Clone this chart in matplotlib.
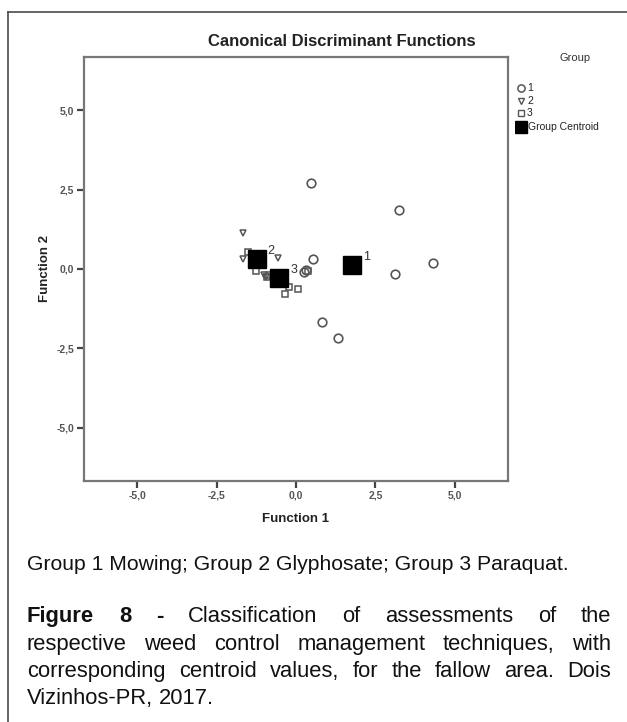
import matplotlib
matplotlib.use("Agg")
import matplotlib.pyplot as plt
from matplotlib.lines import Line2D

plt.rcParams['font.family'] = ['Liberation Sans', 'DejaVu Sans']

# ---- data ----
g1_x = [0.47, 3.24, 4.30, 3.10, 0.55, 0.82, 1.32, 0.25, 0.33]
g1_y = [2.70, 1.85, 0.20, -0.15, 0.33, -1.66, -2.18, -0.10, -0.04]
g2_x = [-1.68, -1.66, -0.58, -1.00, -0.95]
g2_y = [1.12, 0.32, 0.36, -0.20, -0.25]
g3_x = [-1.50, -1.26, -0.92, -0.85, -0.22, 0.05, -0.34, 0.37]
g3_y = [0.52, -0.05, -0.24, -0.20, -0.58, -0.64, -0.80, -0.07]
cent_x = [1.77, -1.24, -0.52]
cent_y = [0.12, 0.30, -0.29]
cent_labels = ["1", "2", "3"]
ticks = [-5.0, -2.5, 0.0, 2.5, 5.0]
tick_labels = ["-5,0", "-2,5", "0,0", "2,5", "5,0"]
legend_labels = ["1", "2", "3", "Group Centroid"]

W, H = 627, 722
fig = plt.figure(figsize=(W / 100, H / 100), dpi=100)

# outer frame (cut at right/bottom)
frame_col = "#4a4a4a"
fig.add_artist(Line2D([8 / W, 1.0], [1 - 12 / H, 1 - 12 / H], color=frame_col, lw=1.2))
fig.add_artist(Line2D([8 / W, 8 / W], [1 - 12 / H, 0.0], color=frame_col, lw=1.2))

# plot axes
l, r, t, b = 84, 508, 57, 481
ax = fig.add_axes([l / W, 1 - b / H, (r - l) / W, (b - t) / H])
ax.set_xlim(-6.67, 6.67)
ax.set_ylim(-6.67, 6.67)
for s in ax.spines.values():
    s.set_color("#777777")
    s.set_linewidth(1.6)

mk_col = "#555555"
ax.plot(g1_x, g1_y, linestyle="none", marker="o", markersize=6.2, markerfacecolor="none",
        markeredgecolor=mk_col, markeredgewidth=1.2)
ax.plot(g2_x, g2_y, linestyle="none", marker="v", markersize=4.2, markerfacecolor="none",
        markeredgecolor=mk_col, markeredgewidth=1.1)
ax.plot(g3_x, g3_y, linestyle="none", marker="s", markersize=5.0, markerfacecolor="none",
        markeredgecolor=mk_col, markeredgewidth=1.1)
ax.plot(cent_x, cent_y, linestyle="none", marker="s", markersize=12.5, markerfacecolor="black",
        markeredgecolor="black")
for cx, cy, lab in zip(cent_x, cent_y, cent_labels):
    ax.annotate(lab, (cx, cy), xytext=(8, 4), textcoords="offset points", fontsize=9,
                color="#333333")

ax.set_xticks(ticks)
ax.set_xticklabels(tick_labels)
ax.set_yticks(ticks)
ax.set_yticklabels(tick_labels)
ax.tick_params(axis="both", direction="out", length=5, width=1.6, color="#444444",
               labelsize=7.5, labelcolor="#555555", pad=2)
for lab in ax.get_xticklabels() + ax.get_yticklabels():
    lab.set_fontweight("bold")
ax.set_xlabel("Function 1", fontsize=9.5, fontweight="bold", color="#222222", labelpad=9)
ax.set_ylabel("Function 2", fontsize=9.5, fontweight="bold", color="#222222", labelpad=4)

fig.text(342 / W, 1 - 41 / H, "Canonical Discriminant Functions", fontsize=12, fontweight="bold",
         color="#222222", ha="center", va="center")

# legend (manual, placed on figure)
fig.text(575 / W, 1 - 58 / H, "Group", fontsize=8, color="#333333", ha="center", va="center")
leg_ax = fig.add_axes([515 / W, 1 - 140 / H, 100 / W, 60 / H])
leg_ax.set_xlim(0, 100)
leg_ax.set_ylim(140, 80)
leg_ax.axis("off")
leg_y = [88, 100.5, 112.5, 127]
leg_styles = [
    dict(marker="o", markersize=5.2, markerfacecolor="none", markeredgecolor=mk_col, markeredgewidth=1.1),
    dict(marker="v", markersize=3.8, markerfacecolor="none", markeredgecolor=mk_col, markeredgewidth=1.0),
    dict(marker="s", markersize=4.5, markerfacecolor="none", markeredgecolor=mk_col, markeredgewidth=1.0),
    dict(marker="s", markersize=8.5, markerfacecolor="black", markeredgecolor="black"),
]
for yy, lab, st in zip(leg_y, legend_labels, leg_styles):
    leg_ax.plot([5.5 if lab != "Group Centroid" else 6.0], [yy], linestyle="none", **st)
    leg_ax.text(12 if lab != "Group Centroid" else 12.5, yy, lab, fontsize=7.5, color="#222222",
                va="center", ha="left")

# captions
fig.text(27 / W, 1 - 565 / H, "Group 1 Mowing; Group 2 Glyphosate; Group 3 Paraquat.",
         fontsize=15.2, color="#111111", va="center", ha="left")

lines = [
    ["Figure", "8", "-", "Classification", "of", "assessments", "of", "the"],
    ["respective", "weed", "control", "management", "techniques,", "with"],
    ["corresponding", "centroid", "values,", "for", "the", "fallow", "area.", "Dois"],
    ["Vizinhos-PR,", "2017."],
]
bold_words = {(0, 0), (0, 1), (0, 2)}
line_base = [622, 650, 677, 704]
x0, x1 = 27, 611
fs = 15.8
fig.canvas.draw()
renderer = fig.canvas.get_renderer()
for li, (words, yy) in enumerate(zip(lines, line_base)):
    arts = []
    for wi, w in enumerate(words):
        tx = fig.text(0, 1 - yy / H, w, fontsize=fs, color="#111111", va="baseline", ha="left",
                      fontweight="bold" if (li, wi) in bold_words else "normal")
        arts.append(tx)
    widths = [a.get_window_extent(renderer).width for a in arts]
    if li < len(lines) - 1:
        gap = (x1 - x0 - sum(widths)) / (len(words) - 1)
    else:
        sp = fig.text(0, 0, "a a", fontsize=fs)
        sp2 = fig.text(0, 0, "aa", fontsize=fs)
        gap = sp.get_window_extent(renderer).width - sp2.get_window_extent(renderer).width
        sp.remove(); sp2.remove()
    xx = x0
    for a, wdt in zip(arts, widths):
        a.set_x(xx / W)
        xx += wdt + gap

fig.savefig("out.png", dpi=100)
